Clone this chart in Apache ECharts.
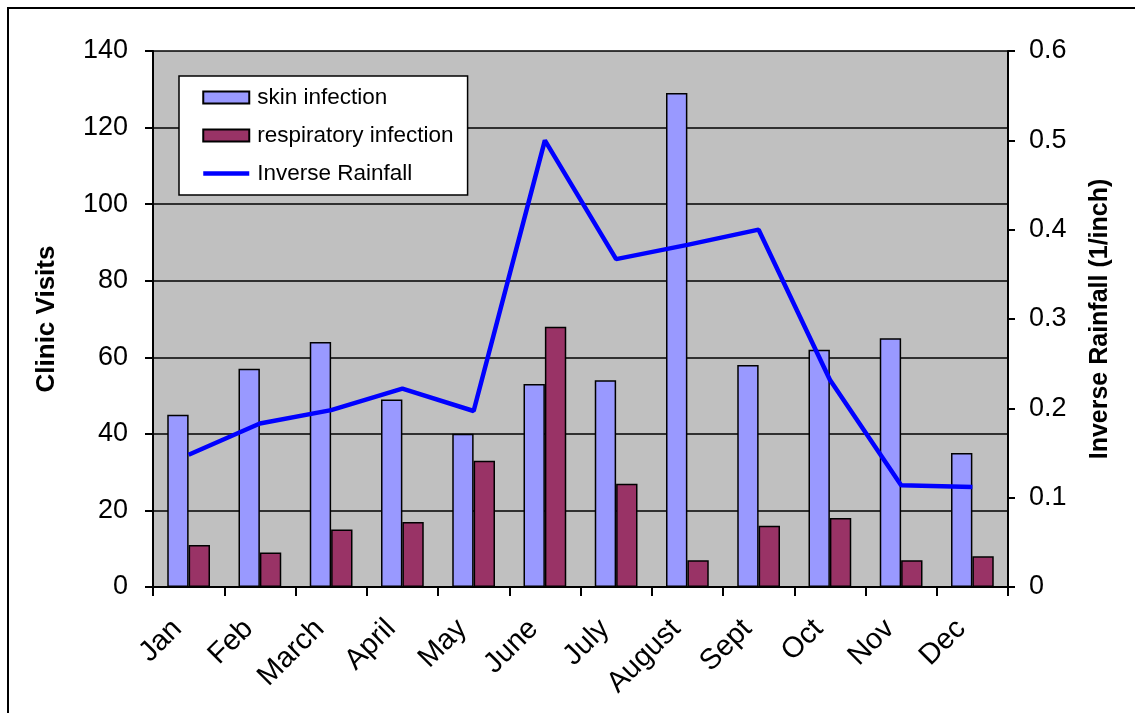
<!DOCTYPE html>
<html>
<head>
<meta charset="utf-8">
<script src="https://cdn.jsdelivr.net/npm/echarts@6/dist/echarts.min.js"></script>
<style>
  html, body { margin: 0; padding: 0; background: #ffffff; }
  #chart { width: 1135px; height: 713px; }
</style>
</head>
<body>
<div id="chart"></div>
<script>
// Monthly clinic visits and inverse rainfall
const months = ['Jan', 'Feb', 'March', 'April', 'May', 'June', 'July', 'August', 'Sept', 'Oct', 'Nov', 'Dec'];
const skinInfection = [45, 57, 64, 49, 40, 53, 54, 129, 58, 62, 65, 35];
const respiratoryInfection = [11, 9, 15, 17, 33, 68, 27, 7, 16, 18, 7, 8];
const inverseRainfall = [0.148, 0.183, 0.198, 0.222, 0.197, 0.5, 0.367, 0.383, 0.4, 0.232, 0.114, 0.112];

const FONT = '"Liberation Sans", Arial, sans-serif';

const chart = echarts.init(document.getElementById('chart'), null, { renderer: 'canvas' });

chart.setOption({
  animation: false,
  backgroundColor: '#ffffff',
  textStyle: { fontFamily: FONT, color: '#000000' },
  graphic: [
    {
      type: 'rect',
      z: 100,
      shape: { x: 8, y: 8, width: 1200, height: 800 },
      style: { fill: null, stroke: '#000000', lineWidth: 2 },
      silent: true
    }
  ],
  grid: {
    left: 153, right: 127, top: 51, bottom: 126,
    show: true,
    backgroundColor: '#C0C0C0',
    borderWidth: 0
  },
  legend: {
    orient: 'vertical',
    left: 179, top: 76,
    backgroundColor: '#ffffff',
    borderColor: '#000000',
    borderWidth: 1.5,
    padding: [10, 14, 10, 22],
    itemWidth: 46,
    itemHeight: 12,
    itemGap: 15,
    textStyle: { fontFamily: FONT, fontSize: 22.5, color: '#000000', padding: [0, 0, 0, 3] },
    data: [
      { name: 'skin infection', icon: 'rect' },
      { name: 'respiratory infection', icon: 'rect' },
      { name: 'Inverse Rainfall', itemStyle: { opacity: 0 }, lineStyle: { width: 4.5, color: '#0000FF' } }
    ]
  },
  xAxis: {
    type: 'category',
    data: months,
    axisLine: { show: true, lineStyle: { color: '#000000', width: 2 } },
    axisTick: { show: true, alignWithLabel: false, length: 9, lineStyle: { color: '#000000', width: 2 } },
    axisLabel: {
      rotate: 45, margin: 26, fontSize: 29, fontFamily: FONT, color: '#000000', interval: 0,
      padding: [0, 16, 0, 0]
    },
    splitLine: { show: false }
  },
  yAxis: [
    {
      type: 'value',
      min: 0, max: 140, interval: 20,
      name: 'Clinic Visits',
      nameLocation: 'middle',
      nameGap: 93,
      nameTextStyle: { fontFamily: FONT, fontSize: 26, fontWeight: 'bold', color: '#000000' },
      axisLine: { show: true, lineStyle: { color: '#000000', width: 2 } },
      axisTick: { show: true, length: 8, lineStyle: { color: '#000000', width: 2 } },
      axisLabel: { margin: 25, fontSize: 27, fontFamily: FONT, color: '#000000' },
      splitLine: { show: true, lineStyle: { color: '#000000', width: 1.5 } }
    },
    {
      type: 'value',
      min: 0, max: 0.6, interval: 0.1,
      name: 'Inverse Rainfall (1/inch)',
      nameLocation: 'middle',
      nameGap: 80,
      nameRotate: 90,
      nameTextStyle: { fontFamily: FONT, fontSize: 25, fontWeight: 'bold', color: '#000000' },
      axisLine: { show: true, lineStyle: { color: '#000000', width: 2 } },
      axisTick: { show: true, length: 7, lineStyle: { color: '#000000', width: 2 } },
      axisLabel: { margin: 21, fontSize: 27, fontFamily: FONT, color: '#000000' },
      splitLine: { show: false }
    }
  ],
  series: [
    {
      name: 'skin infection',
      type: 'bar',
      data: skinInfection,
      barGap: '0%',
      barCategoryGap: '40%',
      itemStyle: { color: '#9999FF', borderColor: '#000000', borderWidth: 1.5 }
    },
    {
      name: 'respiratory infection',
      type: 'bar',
      data: respiratoryInfection,
      barGap: '0%',
      barCategoryGap: '40%',
      itemStyle: { color: '#993366', borderColor: '#000000', borderWidth: 1.5 }
    },
    {
      name: 'Inverse Rainfall',
      type: 'line',
      yAxisIndex: 1,
      data: inverseRainfall,
      symbol: 'none',
      showSymbol: false,
      z: 5,
      lineStyle: { color: '#0000FF', width: 4.5 },
      itemStyle: { color: '#0000FF' }
    }
  ]
});
</script>
</body>
</html>
